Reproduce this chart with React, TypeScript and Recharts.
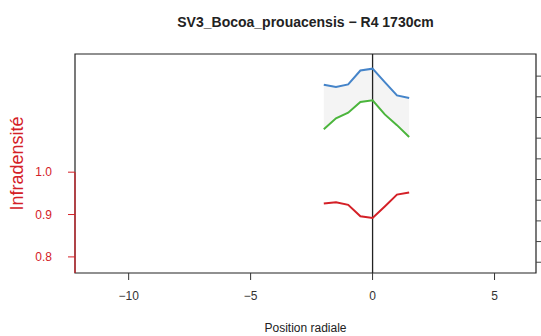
import {
  ComposedChart,
  Line,
  Area,
  XAxis,
  YAxis,
  ReferenceLine,
  ReferenceArea,
} from 'recharts'

const positions = [-2, -1.5, -1, -0.5, 0, 0.5, 1, 1.5]
const infradensite = [0.926, 0.929, 0.923, 0.896, 0.892, 0.919, 0.947, 0.952]
const upper = [1.358, 1.347, 1.36, 1.427, 1.436, 1.371, 1.307, 1.294]
const lower = [1.143, 1.196, 1.223, 1.275, 1.283, 1.215, 1.163, 1.106]

const xTicks = [-10, -5, 0, 5]
const leftTicks = [0.8, 0.9, 1.0]
const rightTicks = [0.5, 0.6, 0.7, 0.8, 0.9, 1.0, 1.1, 1.2, 1.3, 1.4]

const X_DOMAIN: [number, number] = [-12.2, 6.7]
const LEFT_DOMAIN: [number, number] = [0.762, 1.279]
const RIGHT_DOMAIN: [number, number] = [0.448, 1.507]

const RED = '#d42027'
const FONT = '"Liberation Sans", Arial, sans-serif'

const data = positions.map((x, i) => ({
  x,
  red: infradensite[i],
  blue: upper[i],
  green: lower[i],
  band: [lower[i], upper[i]],
}))

export default function App() {
  return (
    <div style={{ position: 'absolute', left: 0, top: 0, width: 541, height: 336, background: '#fff', fontFamily: FONT }}>
      <div
        style={{
          position: 'absolute',
          left: 75,
          width: 461,
          top: 14,
          textAlign: 'center',
          fontSize: 14,
          fontWeight: 'bold',
          color: '#222',
        }}
      >
        SV3_Bocoa_prouacensis − R4 1730cm
      </div>
      <ComposedChart
        width={541}
        height={336}
        data={data}
        margin={{ top: 54, right: 0, left: 0, bottom: 0 }}
        style={{ fontFamily: FONT }}
      >
        <XAxis
          dataKey="x"
          type="number"
          domain={X_DOMAIN}
          ticks={xTicks}
          allowDataOverflow
          height={63}
          tickSize={7}
          tickLine={{ stroke: '#333' }}
          axisLine={false}
          tick={{ fontSize: 12, fill: '#333', dy: 9 }}
          tickFormatter={(v: number) => (v < 0 ? `−${Math.abs(v)}` : `${v}`)}
          label={{ value: 'Position radiale', position: 'insideBottom', offset: 4, fontSize: 12, fill: '#222' }}
        />
        <YAxis
          yAxisId="left"
          type="number"
          domain={LEFT_DOMAIN}
          ticks={leftTicks}
          allowDataOverflow
          width={75}
          tickSize={7}
          tickLine={{ stroke: RED }}
          axisLine={false}
          tick={{ fontSize: 12, fill: RED, dx: -14 }}
          tickFormatter={(v: number) => v.toFixed(1)}
          label={{
            value: 'Infradensité',
            angle: -90,
            position: 'insideLeft',
            offset: 17,
            fontSize: 18,
            fill: RED,
            style: { textAnchor: 'middle' },
          }}
        />
        <YAxis
          yAxisId="right"
          orientation="right"
          type="number"
          domain={RIGHT_DOMAIN}
          ticks={rightTicks}
          allowDataOverflow
          width={5}
          tickSize={5}
          tickLine={{ stroke: '#444' }}
          axisLine={false}
          tickFormatter={() => ''}
        />
        <ReferenceArea
          yAxisId="left"
          x1={X_DOMAIN[0]}
          x2={X_DOMAIN[1]}
          y1={LEFT_DOMAIN[0]}
          y2={LEFT_DOMAIN[1]}
          fill="none"
          stroke="#222"
          strokeWidth={1.2}
        />
        <Area
          yAxisId="right"
          dataKey="band"
          type="linear"
          fill="#f4f4f4"
          fillOpacity={1}
          stroke="none"
          isAnimationActive={false}
        />
        <ReferenceLine
          yAxisId="left"
          segment={[
            { x: X_DOMAIN[0], y: LEFT_DOMAIN[0] },
            { x: X_DOMAIN[0], y: 1.0 },
          ]}
          stroke={RED}
          strokeWidth={1.2}
        />
        <ReferenceLine yAxisId="left" x={0} stroke="#222" strokeWidth={1.3} />
        <Line
          yAxisId="right"
          dataKey="blue"
          type="linear"
          stroke="#4584c9"
          strokeWidth={2}
          dot={false}
          isAnimationActive={false}
        />
        <Line
          yAxisId="right"
          dataKey="green"
          type="linear"
          stroke="#4bb53c"
          strokeWidth={2}
          dot={false}
          isAnimationActive={false}
        />
        <Line
          yAxisId="left"
          dataKey="red"
          type="linear"
          stroke={RED}
          strokeWidth={2}
          dot={false}
          isAnimationActive={false}
        />
      </ComposedChart>
    </div>
  )
}
